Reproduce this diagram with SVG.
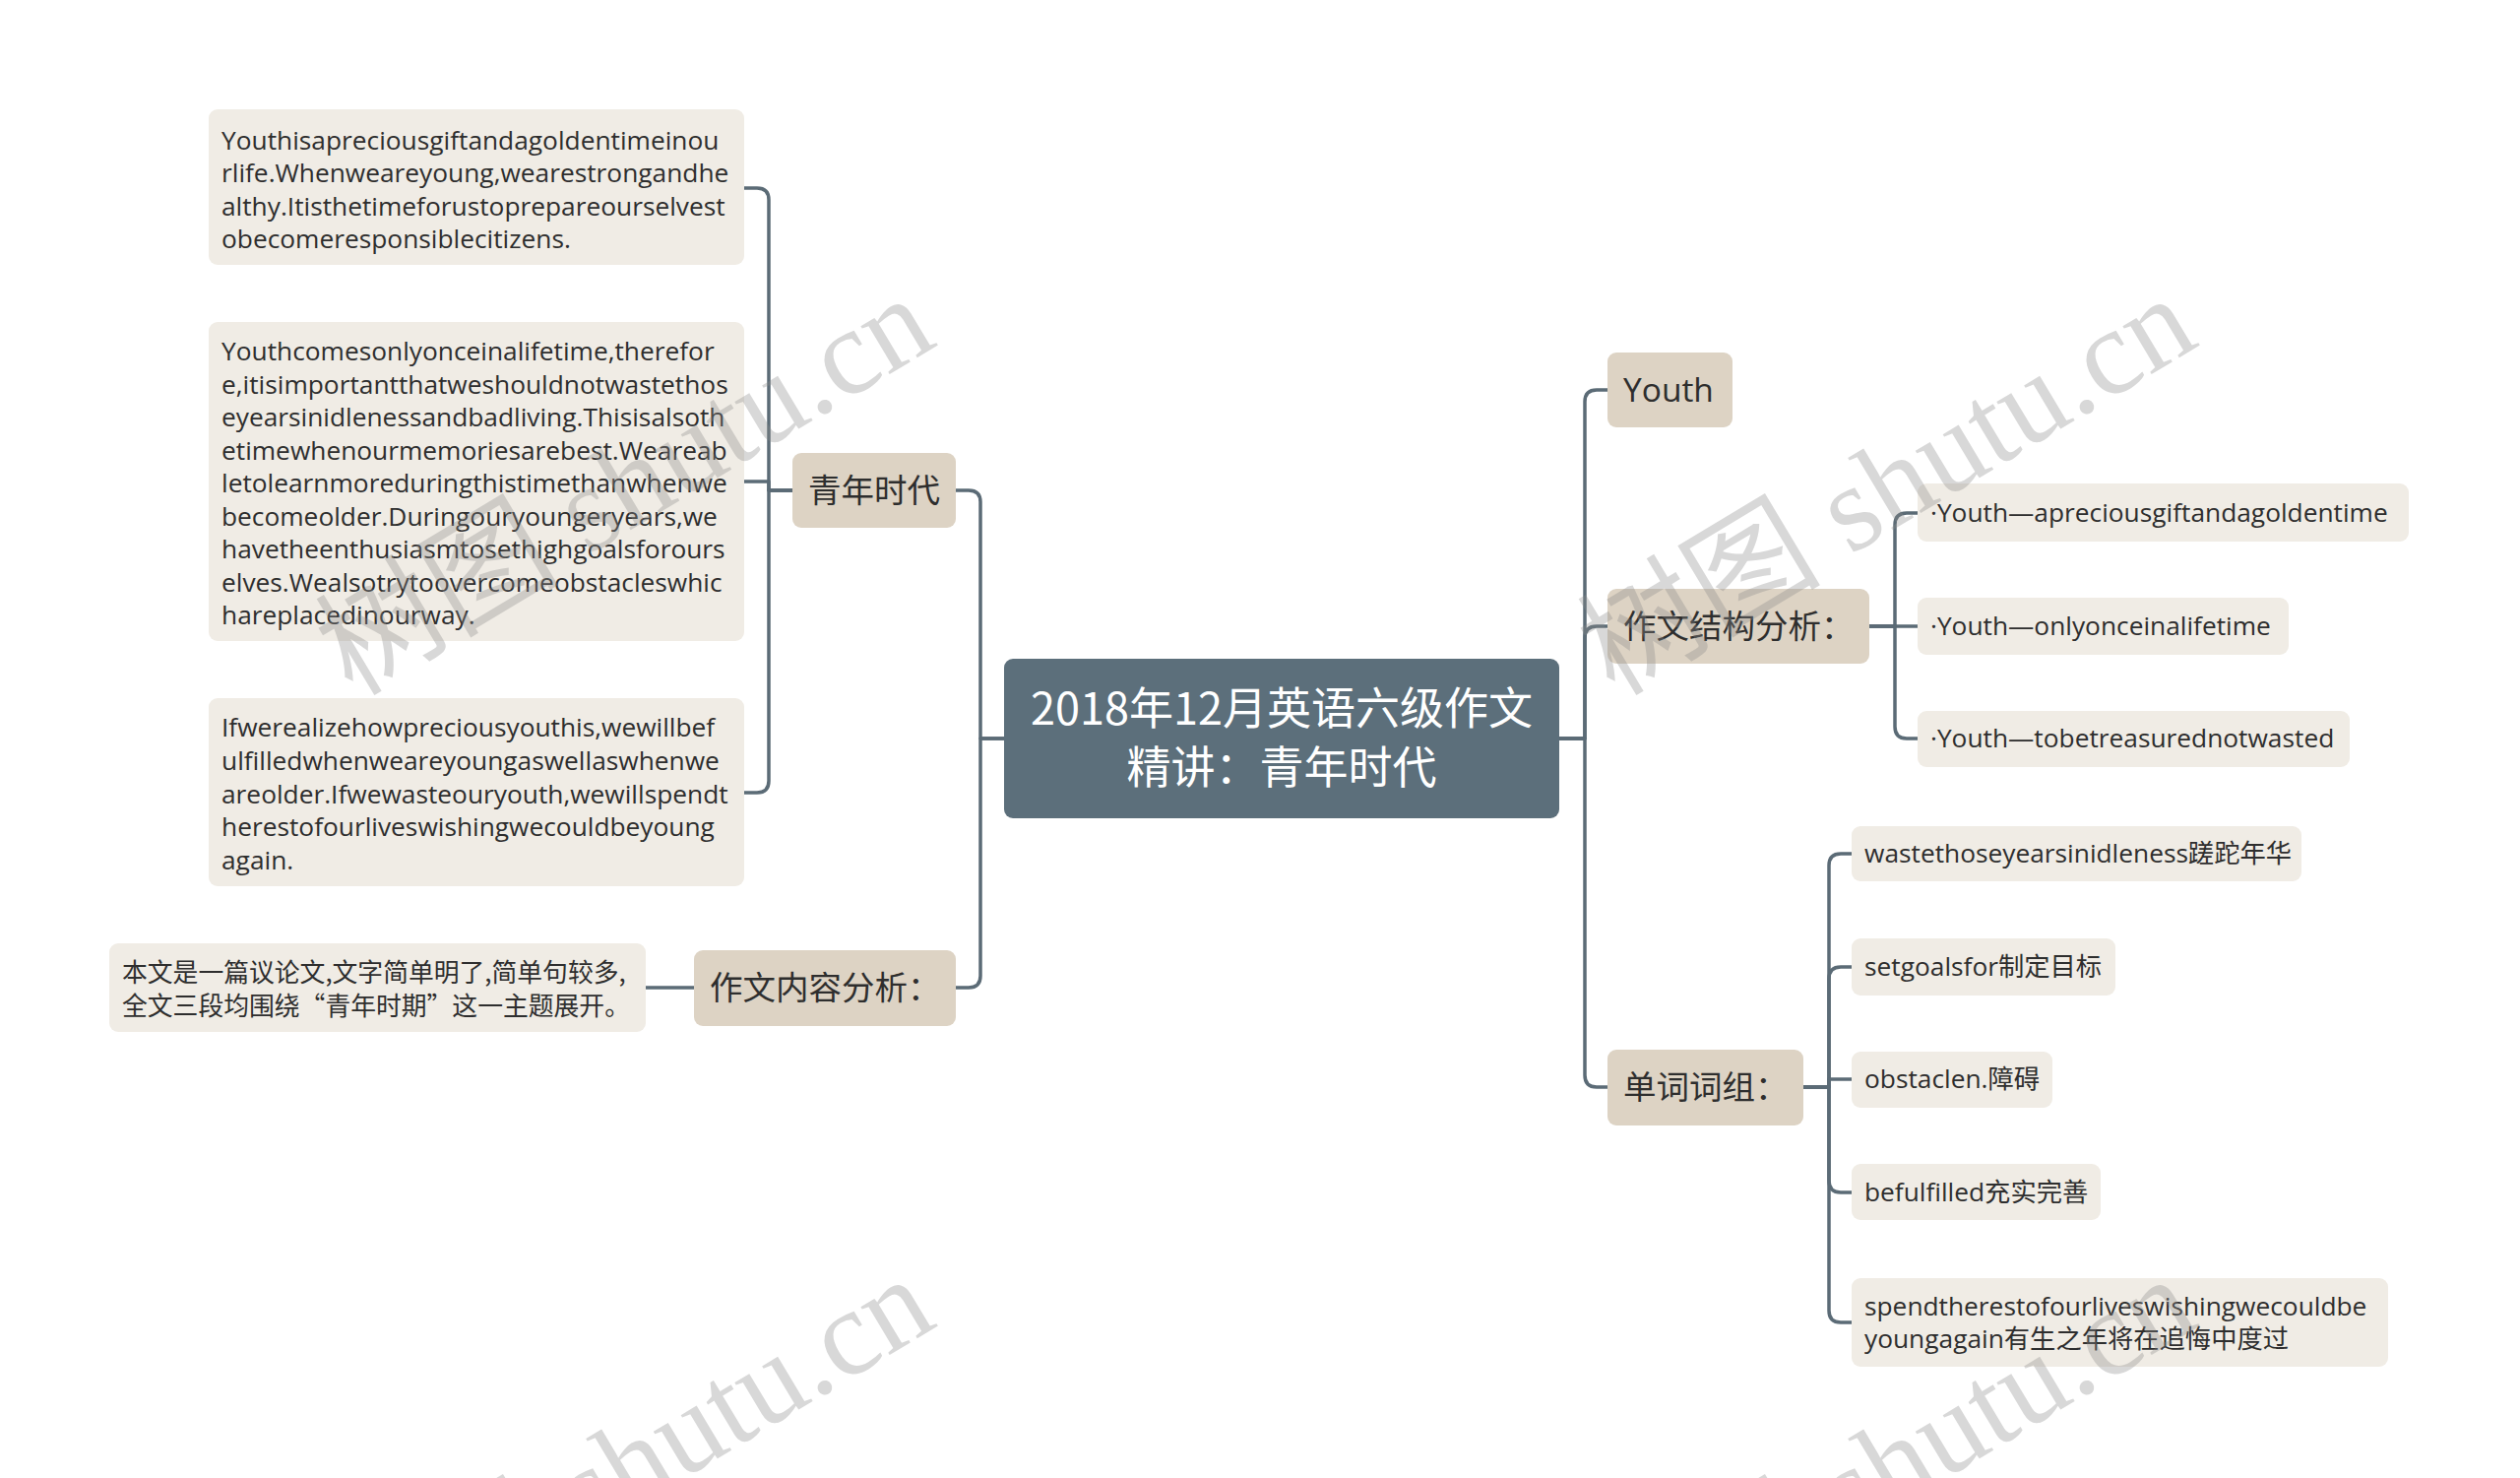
<svg xmlns="http://www.w3.org/2000/svg" width="2560" height="1501" viewBox="0 0 2560 1501">
<style>
.bg{fill:#ffffff}
.root{fill:#5c6f7b}
.l1{fill:#ddd3c4}
.leaf{fill:#f0ece5}
.rt{font-family:"Noto Sans CJK SC","Open Sans",sans-serif;font-size:45px;fill:#ffffff;text-anchor:middle}
.t1{font-family:"Open Sans","Noto Sans CJK SC",sans-serif;font-size:33.5px;fill:#2e2e2e}
.t2{font-family:"Open Sans","Noto Sans CJK SC",sans-serif;font-size:26.3px;fill:#2e2e2e}
.t3{font-family:"Noto Sans CJK SC",sans-serif;font-size:25.8px;fill:#2e2e2e}
.c{fill:none;stroke:#5b6b76;stroke-width:3.5;stroke-linecap:round;stroke-linejoin:round}
.wm{font-family:"Liberation Serif","Noto Sans CJK SC",serif;font-size:124px;fill:#8a8a8a;opacity:0.33}
</style>
<rect class="bg" x="0" y="0" width="2560" height="1501"/>
<g id="connectors">
<path class="c" d="M1020,750 H996 V510 Q996,498 984,498 H971"/>
<path class="c" d="M1020,750 H996 V991 Q996,1003 984,1003 H971"/>
<path class="c" d="M805,498 H781 V203 Q781,191 769,191 H756"/>
<path class="c" d="M805,498 H781 V489 H756"/>
<path class="c" d="M805,498 H781 V793 Q781,805 769,805 H756"/>
<path class="c" d="M705,1003 H656"/>
<path class="c" d="M1584,750 H1610 V408 Q1610,396 1622,396 H1633"/>
<path class="c" d="M1584,750 H1610 V648 Q1610,636 1622,636 H1633"/>
<path class="c" d="M1584,750 H1610 V1092 Q1610,1104 1622,1104 H1633"/>
<path class="c" d="M1899,636 H1925 V533 Q1925,521 1937,521 H1948"/>
<path class="c" d="M1899,636 H1948"/>
<path class="c" d="M1899,636 H1925 V738 Q1925,750 1937,750 H1948"/>
<path class="c" d="M1832,1104 H1858 V879 Q1858,867 1870,867 H1881"/>
<path class="c" d="M1832,1104 H1858 V994 Q1858,982 1870,982 H1881"/>
<path class="c" d="M1832,1104 H1858 V1096 H1881"/>
<path class="c" d="M1832,1104 H1858 V1199 Q1858,1211 1870,1211 H1881"/>
<path class="c" d="M1832,1104 H1858 V1331 Q1858,1343 1870,1343 H1881"/>
</g>
<g id="root">
<rect class="root" x="1020" y="669" width="564" height="162" rx="9"/>
<text class="rt" x="1302" y="736">2018年12月英语六级作文</text>
<text class="rt" x="1302" y="796">精讲：青年时代</text>
</g>
<g id="n-qingnian">
<rect class="l1" x="805" y="460" width="166" height="76" rx="9"/>
<text class="t1" x="821" y="510">青年时代</text>
</g>
<g id="n-neirong">
<rect class="l1" x="705" y="965" width="266" height="77" rx="9"/>
<text class="t1" x="721" y="1015">作文内容分析：</text>
</g>
<g id="leaf-1">
<rect class="leaf" x="212" y="111" width="544" height="158" rx="9"/>
<text class="t2" x="225" y="152">Youthisapreciousgiftandagoldentimeinou</text>
<text class="t2" x="225" y="185">rlife.Whenweareyoung,wearestrongandhe</text>
<text class="t2" x="225" y="219">althy.Itisthetimeforustoprepareourselvest</text>
<text class="t2" x="225" y="252">obecomeresponsiblecitizens.</text>
</g>
<g id="leaf-2">
<rect class="leaf" x="212" y="327" width="544" height="324" rx="9"/>
<text class="t2" x="225" y="366">Youthcomesonlyonceinalifetime,therefor</text>
<text class="t2" x="225" y="400">e,itisimportantthatweshouldnotwastethos</text>
<text class="t2" x="225" y="433">eyearsinidlenessandbadliving.Thisisalsoth</text>
<text class="t2" x="225" y="467">etimewhenourmemoriesarebest.Weareab</text>
<text class="t2" x="225" y="500">letolearnmoreduringthistimethanwhenwe</text>
<text class="t2" x="225" y="534">becomeolder.Duringouryoungeryears,we</text>
<text class="t2" x="225" y="567">havetheenthusiasmtosethighgoalsforours</text>
<text class="t2" x="225" y="601">elves.Wealsotrytoovercomeobstacleswhic</text>
<text class="t2" x="225" y="634">hareplacedinourway.</text>
</g>
<g id="leaf-3">
<rect class="leaf" x="212" y="709" width="544" height="191" rx="9"/>
<text class="t2" x="225" y="748">Ifwerealizehowpreciousyouthis,wewillbef</text>
<text class="t2" x="225" y="782">ulfilledwhenweareyoungaswellaswhenwe</text>
<text class="t2" x="225" y="816">areolder.Ifwewasteouryouth,wewillspendt</text>
<text class="t2" x="225" y="849">herestofourliveswishingwecouldbeyoung</text>
<text class="t2" x="225" y="883">again.</text>
</g>
<g id="leaf-4">
<rect class="leaf" x="111" y="958" width="545" height="90" rx="9"/>
<text class="t3" x="124" y="997">本文是一篇议论文,文字简单明了,简单句较多,</text>
<text class="t3" x="124" y="1031">全文三段均围绕“青年时期”这一主题展开。</text>
</g>
<g id="n-youth">
<rect class="l1" x="1633" y="358" width="127" height="76" rx="9"/>
<text class="t1" x="1649" y="408">Youth</text>
</g>
<g id="n-jiegou">
<rect class="l1" x="1633" y="598" width="266" height="76" rx="9"/>
<text class="t1" x="1649" y="648">作文结构分析：</text>
</g>
<g id="n-danci">
<rect class="l1" x="1633" y="1066" width="199" height="77" rx="9"/>
<text class="t1" x="1649" y="1116">单词词组：</text>
</g>
<g id="leaf-s1">
<rect class="leaf" x="1948" y="491" width="499" height="59" rx="9"/>
<text class="t2" x="1961" y="530">·Youth—apreciousgiftandagoldentime</text>
</g>
<g id="leaf-s2">
<rect class="leaf" x="1948" y="607" width="377" height="58" rx="9"/>
<text class="t2" x="1961" y="645">·Youth—onlyonceinalifetime</text>
</g>
<g id="leaf-s3">
<rect class="leaf" x="1948" y="722" width="439" height="57" rx="9"/>
<text class="t2" x="1961" y="759">·Youth—tobetreasurednotwasted</text>
</g>
<g id="leaf-w1">
<rect class="leaf" x="1881" y="839" width="457" height="56" rx="9"/>
<text class="t2" x="1894" y="876">wastethoseyearsinidleness蹉跎年华</text>
</g>
<g id="leaf-w2">
<rect class="leaf" x="1881" y="953" width="268" height="58" rx="9"/>
<text class="t2" x="1894" y="991">setgoalsfor制定目标</text>
</g>
<g id="leaf-w3">
<rect class="leaf" x="1881" y="1068" width="204" height="57" rx="9"/>
<text class="t2" x="1894" y="1105">obstaclen.障碍</text>
</g>
<g id="leaf-w4">
<rect class="leaf" x="1881" y="1182" width="253" height="57" rx="9"/>
<text class="t2" x="1894" y="1220">befulfilled充实完善</text>
</g>
<g id="leaf-w5">
<rect class="leaf" x="1881" y="1298" width="545" height="90" rx="9"/>
<text class="t2" x="1894" y="1336">spendtherestofourliveswishingwecouldbe</text>
<text class="t2" x="1894" y="1369">youngagain有生之年将在追悔中度过</text>
</g>
<g id="watermarks">
<text class="wm" transform="translate(358,708) rotate(-31)">树图 shutu.cn</text>
<text class="wm" transform="translate(1640,708) rotate(-31)">树图 shutu.cn</text>
<text class="wm" transform="translate(358,1704) rotate(-31)">树图 shutu.cn</text>
<text class="wm" transform="translate(1640,1704) rotate(-31)">树图 shutu.cn</text>
</g>
</svg>
